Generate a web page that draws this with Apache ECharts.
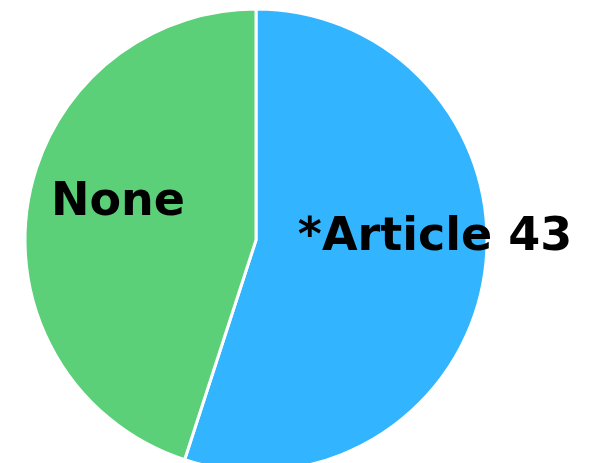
<!DOCTYPE html>
<html>
<head>
<meta charset="utf-8">
<script src="https://cdn.jsdelivr.net/npm/echarts@6/dist/echarts.min.js"></script>
<style>
  html, body { margin: 0; padding: 0; background: #fff; }
  #chart { width: 589px; height: 463px; }
</style>
</head>
<body>
<div id="chart"></div>
<script>
// Slice names and their shares
const categories = ['*Article 43', 'None'];
const values = [55, 45];
const colors = ['#33b4ff', '#5ccf79'];

// Label nudges away from the default inside spot, per slice
const labelShift = {
  '*Article 43': { dx: 62, dy: -20 },
  'None': { dx: -21, dy: -18 }
};

const chart = echarts.init(document.getElementById('chart'));
chart.setOption({
  animation: false,
  series: [{
    type: 'pie',
    center: [256, 240],
    radius: 231,
    startAngle: 90,
    clockwise: true,
    data: categories.map((name, i) => ({
      name: name,
      value: values[i],
      itemStyle: { color: colors[i] }
    })),
    itemStyle: { borderColor: '#ffffff', borderWidth: 3 },
    label: {
      show: true,
      position: 'inside',
      formatter: '{b}',
      color: '#000000',
      fontFamily: 'DejaVu Sans',
      fontWeight: 'bold',
      fontSize: 46
    },
    labelLine: { show: false },
    labelLayout: function (params) {
      const name = categories[params.dataIndex];
      return labelShift[name];
    },
    emphasis: { disabled: true }
  }]
});
</script>
</body>
</html>
